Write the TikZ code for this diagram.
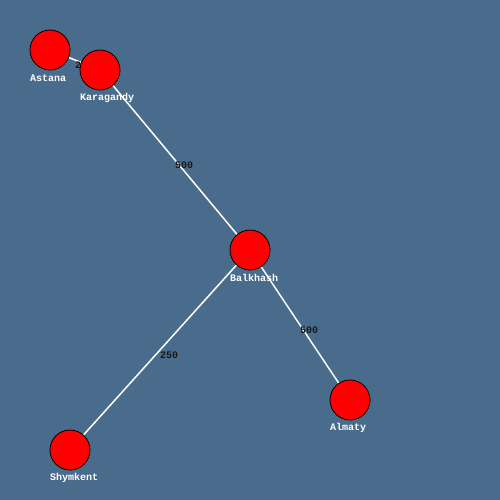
\documentclass[tikz,border=0pt]{standalone}
\usepackage{fontspec}
\setmonofont{Liberation Mono}
\usepackage{xcolor}
\definecolor{mapbg}{HTML}{4A6C8C}
\definecolor{citred}{HTML}{FF0000}
\begin{document}
\begin{tikzpicture}[x=1pt, y=-1pt, font=\ttfamily\bfseries\fontsize{10}{12}\selectfont,
  road/.style={white, line width=1.5pt},
  dist/.style={anchor=west, inner sep=0pt, text=black!90},
  city/.style={draw=black, fill=citred, circle, minimum size=40pt, inner sep=0pt, line width=0.8pt},
  cityname/.style={anchor=west, inner sep=0pt, text=white}]

\fill[mapbg] (0,0) rectangle (500,500);
\useasboundingbox (0,0) rectangle (500,500);

%city positions
\coordinate (cAst) at (50, 50);
\coordinate (cKar) at (100, 70);
\coordinate (cBal) at (250, 250);
\coordinate (cAlm) at (350, 400);
\coordinate (cShy) at (70, 450);

%roads
\draw[road] (cAst) -- (cKar);
\draw[road] (cKar) -- (cBal);
\draw[road] (cBal) -- (cAlm);
\draw[road] (cBal) -- (cShy);

%distances
\node[dist] (dAK) at (75, 65.5) {200};
\node[dist] (dKB) at (175, 165.5) {500};
\node[dist] (dBA) at (300, 330.5) {500};
\node[dist] (dBS) at (160, 355.5) {250};

%cities
\node[city] (sAst) at (cAst) {};
\node[cityname] (Alet) at (30, 78) {Astana};
\node[city] (sKar) at (cKar) {};
\node[cityname] (Klet) at (80, 98) {Karagandy};
\node[city] (sBal) at (cBal) {};
\node[cityname] (Blet) at (230, 278) {Balkhash};
\node[city] (sAlm) at (cAlm) {};
\node[cityname] (Llet) at (330, 428) {Almaty};
\node[city] (sShy) at (cShy) {};
\node[cityname] (Slet) at (50, 478) {Shymkent};

\end{tikzpicture}
\end{document}
